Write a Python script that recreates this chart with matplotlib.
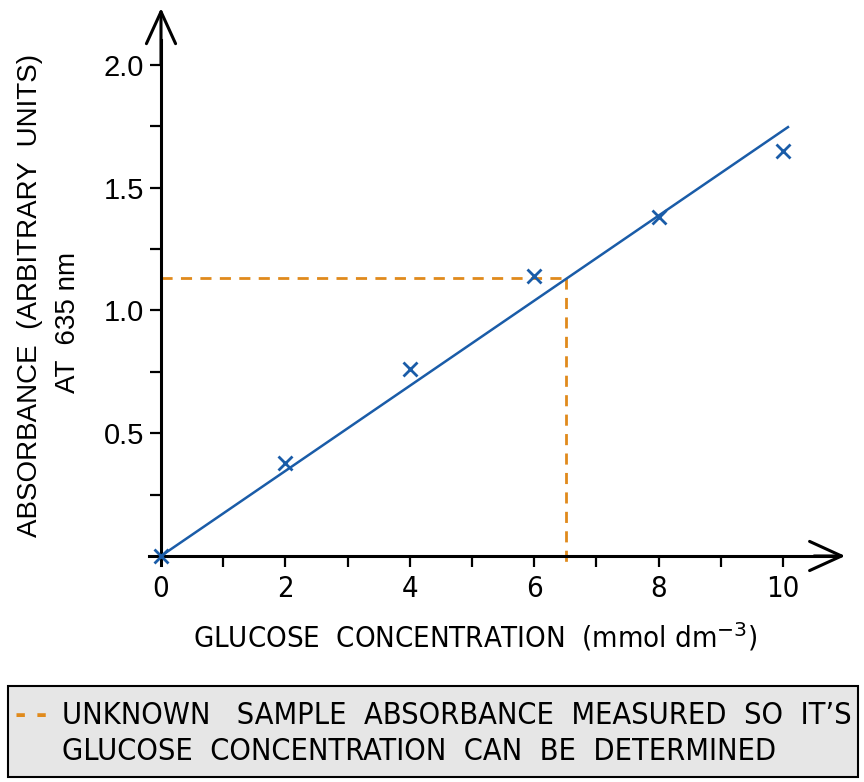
import numpy as np
import matplotlib
matplotlib.use("Agg")
import matplotlib.pyplot as plt
from matplotlib.patches import Rectangle

# Calibration data
glucose = [0, 2, 4, 6, 8, 10]
absorbance = [0.0, 0.38, 0.76, 1.14, 1.38, 1.65]

# Line of best fit
fit_x = [0, 10.08]
fit_y = [0, 1.747]

# Unknown sample
unknown_abs = 1.132
unknown_conc = 6.51

x_ticks = [0, 2, 4, 6, 8, 10]
x_minor = [1, 3, 5, 7, 9]
y_ticks = [0.5, 1.0, 1.5, 2.0]
y_minor = [0.25, 0.75, 1.25, 1.75]

blue = "#1a5ca8"
orange = "#e08a1c"
hand = dict(fontfamily=["DejaVu Sans"], fontstretch="condensed")
plain = dict(fontfamily=["Liberation Sans", "DejaVu Sans"])

fig = plt.figure(figsize=(8.64, 7.82), dpi=100)
ax = fig.add_axes([140 / 864, 202 / 782, 710 / 864, 575 / 782])
ax.set_xlim(-0.3376, 11.077)
ax.set_ylim(-0.0978, 2.2444)

for s in ["top", "right"]:
    ax.spines[s].set_visible(False)
ax.spines["left"].set_position(("data", 0))
ax.spines["bottom"].set_position(("data", 0))
ax.spines["left"].set_bounds(-0.035, 2.1)
ax.spines["bottom"].set_bounds(-0.2, 10.9)
for s in ["left", "bottom"]:
    ax.spines[s].set_linewidth(2.2)

# arrow heads
ax.annotate("", xy=(0, 2.232), xytext=(0, 2.0),
            arrowprops=dict(arrowstyle="->,head_length=2.3,head_width=1.05",
                            lw=2.2, color="black", shrinkA=0, shrinkB=0))
ax.annotate("", xy=(11.0, 0), xytext=(10.5, 0),
            arrowprops=dict(arrowstyle="->,head_length=2.3,head_width=1.05",
                            lw=2.2, color="black", shrinkA=0, shrinkB=0))

ax.set_xticks(x_ticks)
ax.set_xticks(x_minor, minor=True)
ax.set_yticks(y_ticks)
ax.set_yticks(y_minor, minor=True)
ax.set_yticklabels([f"{v:.1f}" for v in y_ticks])
ax.set_xticklabels([str(v) for v in x_ticks])
ax.tick_params(axis="both", which="both", direction="out", length=8, width=1.6)
ax.tick_params(axis="y", pad=4, labelsize=21)
ax.tick_params(axis="x", pad=6, labelsize=21)
for lab in ax.get_yticklabels():
    lab.set_fontfamily(plain["fontfamily"])
for lab in ax.get_xticklabels():
    lab.set_fontfamily(hand["fontfamily"])
    lab.set_fontstretch("condensed")
# no tick drawn at x = 0 (it is the y axis)
ax.xaxis.get_major_ticks()[0].tick1line.set_visible(False)

# data
ax.plot(fit_x, fit_y, color=blue, lw=1.8, zorder=3)
ax.plot(glucose, absorbance, ls="none", marker="x", ms=10, mew=2, color=blue, zorder=4)

# unknown sample readout
ax.plot([0, unknown_conc], [unknown_abs, unknown_abs], color=orange, lw=2,
        ls=(0, (4, 3)), zorder=2)
ax.plot([unknown_conc, unknown_conc], [unknown_abs, -0.035], color=orange, lw=2,
        ls=(0, (4, 3)), zorder=2)

ax.set_xlabel("GLUCOSE  CONCENTRATION  (mmol dm$^{-3}$)", fontsize=21, **hand)
ax.xaxis.set_label_coords(0.472, -0.07)

# y label in two lines
fig.text(30 / 864, 1 - 295 / 782, "ABSORBANCE  (ARBITRARY  UNITS)", rotation=90,
         ha="center", va="center", fontsize=20, **plain)
fig.text(68 / 864, 1 - 322 / 782, "AT  635 nm", rotation=90,
         ha="center", va="center", fontsize=20, **plain)

# key box
fig.patches.append(Rectangle((8 / 864, 1 - 777 / 782), 850 / 864, 91 / 782,
                             transform=fig.transFigure, facecolor="#e6e6e6",
                             edgecolor="black", lw=1.5))
fig.text(15 / 864, 1 - 716 / 782, "- -", color=orange, fontsize=22,
         va="center", ha="left", fontweight="bold", **hand)
fig.text(62 / 864, 1 - 716 / 782,
         "UNKNOWN   SAMPLE  ABSORBANCE  MEASURED  SO  IT\u2019S",
         fontsize=22, va="center", ha="left", **hand)
fig.text(62 / 864, 1 - 752 / 782,
         "GLUCOSE  CONCENTRATION  CAN  BE  DETERMINED",
         fontsize=22, va="center", ha="left", **hand)

fig.savefig("out.png", dpi=100)
